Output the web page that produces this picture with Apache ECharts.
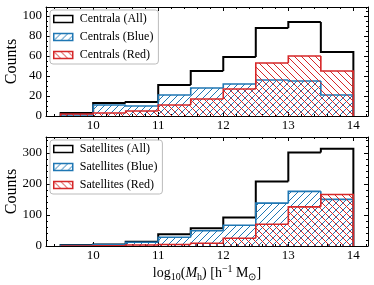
<!DOCTYPE html>
<html><head><meta charset="utf-8">
<script src="https://cdn.jsdelivr.net/npm/echarts@6/dist/echarts.min.js"></script>
<style>html,body{margin:0;padding:0;background:#fff}#c{width:374px;height:285px}</style>
</head><body><div id="c"></div>
<script>
// ---- data ----
const binEdges = [9.5, 10, 10.5, 11, 11.5, 12, 12.5, 13, 13.5, 14];
const centralsAll  = [3, 13, 14, 31, 45, 59, 88, 94, 64];
const centralsBlue = [1, 11, 10, 21, 28, 32, 36, 35, 21];
const centralsRed  = [2, 3, 5, 11, 17, 27, 53, 60, 45];
const satellitesAll  = [3, 5, 14, 38, 57, 92, 208, 301, 313];
const satellitesBlue = [2, 5, 12, 28, 49, 67, 138, 176, 150];
const satellitesRed  = [0, 1, 3, 5, 9, 25, 70, 126, 166];
const xMajorTicks = [10, 11, 12, 13, 14];
const xMinorTicks = [9.4, 9.6, 9.8, 10, 10.2, 10.4, 10.6, 10.8, 11, 11.2, 11.4, 11.6, 11.8, 12, 12.2, 12.4, 12.6, 12.8, 13, 13.2, 13.4, 13.6, 13.8, 14, 14.2];
const yTopMajorTicks = [0, 20, 40, 60, 80, 100];
const yTopMinorTicks = [0, 5, 10, 15, 20, 25, 30, 35, 40, 45, 50, 55, 60, 65, 70, 75, 80, 85, 90, 95, 100, 105];
const yBotMajorTicks = [0, 100, 200, 300];
const yBotMinorTicks = [0, 20, 40, 60, 80, 100, 120, 140, 160, 180, 200, 220, 240, 260, 280, 300, 320, 340];
const topNames = ['Centrala (All)', 'Centrals (Blue)', 'Centrals (Red)'];
const botNames = ['Satellites (All)', 'Satellites (Blue)', 'Satellites (Red)'];

const FONT = 'Liberation Serif';
const BLACK = '#000000', BLUE = '#1f77b4', RED = '#d62728';

function hatch(color, dir) {
  const s = 7;
  const c = document.createElement('canvas');
  c.width = s; c.height = s;
  const g = c.getContext('2d');
  g.strokeStyle = color; g.lineWidth = 1;
  g.beginPath();
  for (let k = -1; k <= 1; k++) {
    if (dir > 0) { g.moveTo(k * s, s); g.lineTo(k * s + s, 0); }
    else { g.moveTo(k * s, 0); g.lineTo(k * s + s, s); }
  }
  g.stroke();
  return { image: c, repeat: 'repeat' };
}
const bluePat = hatch(BLUE, 1);
const redPat = hatch(RED, -1);

function stepSeries(name, counts, gi, color, pattern, lw, z) {
  return {
    type: 'custom', name: name,
    xAxisIndex: gi * 4, yAxisIndex: gi * 4, z: z,
    data: counts.map((c, i) => [binEdges[i], binEdges[i + 1], c]),
    itemStyle: { color: pattern || 'rgba(255,255,255,0)', borderColor: color },
    clip: true,
    renderItem: function (params, api) {
      const i = params.dataIndex;
      const x0 = api.value(0), x1 = api.value(1), v = api.value(2);
      const prev = i > 0 ? counts[i - 1] : 0;
      const p00 = api.coord([x0, 0]);
      const p0v = api.coord([x0, v]);
      const p1v = api.coord([x1, v]);
      const p0p = api.coord([x0, prev]);
      const pts = [p0p, p0v, p1v];
      if (i === counts.length - 1) pts.push(api.coord([x1, 0]));
      const children = [];
      if (pattern) {
        children.push({
          type: 'rect',
          shape: { x: p00[0], y: p0v[1], width: p1v[0] - p00[0], height: p00[1] - p0v[1] },
          style: { fill: pattern, stroke: null }, silent: true
        });
      }
      children.push({
        type: 'polyline', shape: { points: pts },
        style: { stroke: color, lineWidth: lw, fill: null, lineJoin: 'miter' }, silent: true
      });
      return { type: 'group', children: children };
    }
  };
}

const grids = [
  { left: 46, right: 6, top: 7, height: 109, containLabel: false, outerBoundsMode: 'none' },
  { left: 46, right: 6, top: 137, height: 109, containLabel: false, outerBoundsMode: 'none' }
];

const xAxes = [], yAxes = [];
const yMax = [109, 351];
const yMaj = [yTopMajorTicks, yBotMajorTicks];
const yMin = [yTopMinorTicks, yBotMinorTicks];
for (let g = 0; g < 2; g++) {
  const common = { type: 'value', gridIndex: g, min: 9.275, max: 14.225, splitLine: { show: false } };
  xAxes.push(Object.assign({}, common, {
    position: 'bottom',
    axisLine: { show: true, onZero: false, lineStyle: { color: BLACK, width: 1 } },
    axisTick: { show: true, inside: true, length: 4, customValues: xMajorTicks, lineStyle: { color: BLACK } },
    axisLabel: { show: true, customValues: xMajorTicks, margin: 3, color: BLACK, fontFamily: FONT, fontSize: 13 },
    name: g === 1 ? '{b|log}{s|10}{b|(}{i|M}{s|h}{b|) [h}{u|\u22121}{b| M}{s|\u2299}{b|]}' : '',
    nameLocation: 'middle', nameGap: 18, nameMoveOverlap: false,
    nameTextStyle: {
      color: BLACK, fontFamily: FONT, fontSize: 14,
      rich: {
        b: { fontFamily: FONT, fontSize: 14, color: BLACK, lineHeight: 18, verticalAlign: 'middle' },
        i: { fontFamily: FONT, fontSize: 14, fontStyle: 'italic', color: BLACK, lineHeight: 18, verticalAlign: 'middle' },
        s: { fontFamily: FONT, fontSize: 10, color: BLACK, lineHeight: 18, verticalAlign: 'bottom' },
        u: { fontFamily: FONT, fontSize: 10, color: BLACK, lineHeight: 18, verticalAlign: 'top' }
      }
    }
  }));
  xAxes.push(Object.assign({}, common, {
    position: 'bottom', axisLine: { show: false, onZero: false },
    axisTick: { show: true, inside: true, length: 2, customValues: xMinorTicks, lineStyle: { color: BLACK } },
    axisLabel: { show: false }
  }));
  xAxes.push(Object.assign({}, common, {
    position: 'top',
    axisLine: { show: true, onZero: false, lineStyle: { color: BLACK, width: 1 } },
    axisTick: { show: true, inside: true, length: 4, customValues: xMajorTicks, lineStyle: { color: BLACK } },
    axisLabel: { show: false }
  }));
  xAxes.push(Object.assign({}, common, {
    position: 'top', axisLine: { show: false, onZero: false },
    axisTick: { show: true, inside: true, length: 2, customValues: xMinorTicks, lineStyle: { color: BLACK } },
    axisLabel: { show: false }
  }));

  const yc = { type: 'value', gridIndex: g, min: 0, max: yMax[g], splitLine: { show: false } };
  yAxes.push(Object.assign({}, yc, {
    position: 'left',
    axisLine: { show: true, onZero: false, lineStyle: { color: BLACK, width: 1 } },
    axisTick: { show: true, inside: true, length: 4, customValues: yMaj[g], lineStyle: { color: BLACK } },
    axisLabel: { show: true, customValues: yMaj[g], margin: 4, color: BLACK, fontFamily: FONT, fontSize: 13 },
    name: 'Counts', nameLocation: 'middle', nameGap: 26, nameMoveOverlap: false,
    nameTextStyle: { color: BLACK, fontFamily: FONT, fontSize: 16 }
  }));
  yAxes.push(Object.assign({}, yc, {
    position: 'left', axisLine: { show: false, onZero: false },
    axisTick: { show: true, inside: true, length: 2, customValues: yMin[g], lineStyle: { color: BLACK } },
    axisLabel: { show: false }
  }));
  yAxes.push(Object.assign({}, yc, {
    position: 'right',
    axisLine: { show: true, onZero: false, lineStyle: { color: BLACK, width: 1 } },
    axisTick: { show: true, inside: true, length: 4, customValues: yMaj[g], lineStyle: { color: BLACK } },
    axisLabel: { show: false }
  }));
  yAxes.push(Object.assign({}, yc, {
    position: 'right', axisLine: { show: false, onZero: false },
    axisTick: { show: true, inside: true, length: 2, customValues: yMin[g], lineStyle: { color: BLACK } },
    axisLabel: { show: false }
  }));
}

function legendFor(names, top) {
  return {
    orient: 'vertical', left: 50, top: top,
    padding: [3, 5, 3, 3], itemGap: 6, itemWidth: 19, itemHeight: 7,
    backgroundColor: 'rgba(255,255,255,0.85)', borderColor: '#bbbbbb', borderWidth: 1, borderRadius: 3,
    textStyle: { color: BLACK, fontFamily: FONT, fontSize: 12, lineHeight: 8, padding: [0, 0, 0, 2] },
    data: [
      { name: names[0], icon: 'rect', itemStyle: { color: '#ffffff', borderColor: BLACK, borderWidth: 1.5 } },
      { name: names[1], icon: 'rect', itemStyle: { color: bluePat, borderColor: BLUE, borderWidth: 1.5 } },
      { name: names[2], icon: 'rect', itemStyle: { color: redPat, borderColor: RED, borderWidth: 1.5 } }
    ]
  };
}

const chart = echarts.init(document.getElementById('c'), null, { renderer: 'canvas' });
chart.setOption({
  animation: false,
  grid: grids,
  xAxis: xAxes,
  yAxis: yAxes,
  legend: [legendFor(topNames, 10), legendFor(botNames, 140)],
  series: [
    stepSeries(topNames[0], centralsAll, 0, BLACK, null, 2, 2),
    stepSeries(topNames[1], centralsBlue, 0, BLUE, bluePat, 1.6, 3),
    stepSeries(topNames[2], centralsRed, 0, RED, redPat, 1.6, 4),
    stepSeries(botNames[0], satellitesAll, 1, BLACK, null, 2, 2),
    stepSeries(botNames[1], satellitesBlue, 1, BLUE, bluePat, 1.6, 3),
    stepSeries(botNames[2], satellitesRed, 1, RED, redPat, 1.6, 4)
  ]
});
</script></body></html>
